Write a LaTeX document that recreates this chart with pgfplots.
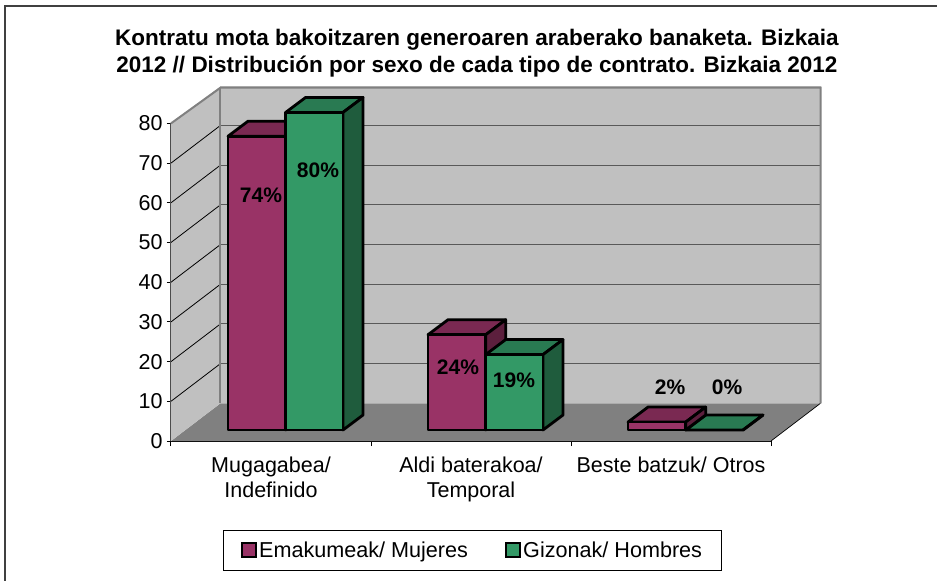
\documentclass[border=0pt]{standalone}
\usepackage{pgfplots}
\pgfplotsset{compat=1.18}
\usepackage{fontspec}
\setmainfont{Liberation Sans}
\definecolor{pfront}{HTML}{993366}
\definecolor{ptop}{HTML}{7A2952}
\definecolor{pside}{HTML}{5C1F3D}
\definecolor{gfront}{HTML}{339966}
\definecolor{gtop}{HTML}{297A52}
\definecolor{gside}{HTML}{1F5C3D}
\definecolor{wallc}{HTML}{C0C0C0}
\definecolor{floorc}{HTML}{808080}
% one 3-D bar: left x, right x, value, colour prefix
\newcommand{\threedbar}[4]{%
  \pgfmathsetmacro{\xa}{#1+0.1}\pgfmathsetmacro{\xb}{#2+0.1}%
  \pgfmathsetmacro{\yb}{2.77}\pgfmathsetmacro{\yt}{#3+2.77}%
  \pgfmathsetmacro{\ybb}{2.77+3.78}\pgfmathsetmacro{\ytt}{#3+2.77+3.78}%
  \addplot[forget plot,draw=black,line width=2.8pt,line join=round,fill=#4top] coordinates {(#1,\yt)(\xa,\ytt)(\xb,\ytt)(#2,\yt)} --cycle;
  \addplot[forget plot,draw=black,line width=2.8pt,line join=round,fill=#4side] coordinates {(#2,\yb)(\xb,\ybb)(\xb,\ytt)(#2,\yt)} --cycle;
  \addplot[forget plot,draw=black,line width=2.8pt,line join=round,fill=#4front] coordinates {(#1,\yb)(#2,\yb)(#2,\yt)(#1,\yt)} --cycle;
}
\begin{document}
\begin{tikzpicture}[x=1pt,y=1pt]
\path[use as bounding box] (-171,-140) rectangle (766,441);
\draw[color=black!75,line width=1.5pt] (766,435) -- (-166,435) -- (-166,-140);
\begin{axis}[
  anchor=south west, at={(0,0)},
  scale only axis, width=600pt, height=317.6pt,
  xmin=0, xmax=3, ymin=0, ymax=80,
  clip=false,
  axis lines*=left,
  axis line style={draw=black,line width=1pt,-},
  xtick={0.5,1.5,2.5},
  xticklabels={{Mugagabea/\\Indefinido},{Aldi baterakoa/\\Temporal},{Beste batzuk/ Otros}},
  xticklabel style={align=center,font=\fontsize{21.5}{25}\selectfont,yshift=-8pt},
  major x tick style={draw=none},
  minor xtick={0,1,2,3},
  minor tick length=5pt,
  minor x tick style={draw=black,line width=1pt},
  major tick length=4pt,
  tick align=outside,
  ytick={0,10,...,80},
  yticklabel style={font=\fontsize{21.5}{24}\selectfont,xshift=-1pt},
  ytick style={draw=black,line width=1pt},
  /pgf/number format/assume math mode=true,
  legend columns=2,
  legend cell align=left,
  legend style={at={(axis cs:1.5075,-27.5)},anchor=center,draw=black,line width=1pt,fill=white,
    font=\fontsize{21.6}{24}\selectfont,inner xsep=17pt,inner ysep=9.5pt,
    /tikz/every even column/.append style={column sep=35pt}},
  legend image code/.code={\draw[#1,line width=2.2pt] (0pt,-7pt) rectangle (14pt,7pt);},
]
\addlegendimage{draw=black,fill=pfront}
\addlegendentry{Emakumeak/ Mujeres}
\addlegendimage{draw=black,fill=gfront}
\addlegendentry{Gizonak/ Hombres}
% floor
\addplot[forget plot,fill=floorc,draw=none] coordinates {(0,0)(3,0)(3.2475,9.5)(0.2475,9.5)} --cycle;
\addplot[forget plot,draw=black,line width=0.7pt] coordinates {(3,0)(3.2475,9.5)};
% left wall
\addplot[forget plot,fill=wallc,draw=none] coordinates {(0,0)(0.2475,9.5)(0.2475,89.3)(0,80)} --cycle;
% back wall
\addplot[forget plot,fill=wallc,draw=none] coordinates {(0.2475,9.5)(3.2475,9.5)(3.2475,89.3)(0.2475,89.3)} --cycle;
% grid lines on the walls
\addplot[forget plot,draw=black,line width=0.8pt] coordinates {(0,10)(0.2475,19.5)};
\addplot[forget plot,draw=black,line width=0.8pt] coordinates {(0,20)(0.2475,29.5)};
\addplot[forget plot,draw=black,line width=0.8pt] coordinates {(0,30)(0.2475,39.5)};
\addplot[forget plot,draw=black,line width=0.8pt] coordinates {(0,40)(0.2475,49.5)};
\addplot[forget plot,draw=black,line width=0.8pt] coordinates {(0,50)(0.2475,59.5)};
\addplot[forget plot,draw=black,line width=0.8pt] coordinates {(0,60)(0.2475,69.5)};
\addplot[forget plot,draw=black,line width=0.8pt] coordinates {(0,70)(0.2475,79.5)};
\addplot[forget plot,draw=black!65,line width=0.9pt] coordinates {(0.2475,19.5)(3.2475,19.5)};
\addplot[forget plot,draw=black!65,line width=0.9pt] coordinates {(0.2475,29.5)(3.2475,29.5)};
\addplot[forget plot,draw=black!65,line width=0.9pt] coordinates {(0.2475,39.5)(3.2475,39.5)};
\addplot[forget plot,draw=black!65,line width=0.9pt] coordinates {(0.2475,49.5)(3.2475,49.5)};
\addplot[forget plot,draw=black!65,line width=0.9pt] coordinates {(0.2475,59.5)(3.2475,59.5)};
\addplot[forget plot,draw=black!65,line width=0.9pt] coordinates {(0.2475,69.5)(3.2475,69.5)};
\addplot[forget plot,draw=black!65,line width=0.9pt] coordinates {(0.2475,79.5)(3.2475,79.5)};
% wall edges
\addplot[forget plot,draw=floorc,line width=2pt] coordinates {(0,80)(0.2475,89.0)(3.2475,89.0)(3.2475,9.5)};
\addplot[forget plot,draw=floorc,line width=2pt] coordinates {(0.2475,89.0)(0.2475,9.5)};
\addplot[forget plot,draw=black!70,line width=1pt] coordinates {(0,0)(0,80)};
% bars
\threedbar{0.285}{0.5735}{74}{p}
\threedbar{0.5735}{0.86}{80}{g}
\threedbar{1.285}{1.5735}{24}{p}
\threedbar{1.5735}{1.86}{19}{g}
\threedbar{2.5735}{2.86}{0}{g}
\threedbar{2.285}{2.5735}{2}{p}
% value labels
\begin{scope}[every node/.style={font=\bfseries\fontsize{21}{24}\selectfont,inner sep=0pt}]
\node at (axis cs:0.45,61.8) {74\%};
\node at (axis cs:0.735,68.2) {80\%};
\node at (axis cs:1.435,18.5) {24\%};
\node at (axis cs:1.715,15.2) {19\%};
\node at (axis cs:2.495,13.6) {2\%};
\node at (axis cs:2.78,13.6) {0\%};
\end{scope}
\node[font=\bfseries\fontsize{22.5}{27}\selectfont,align=center,anchor=south,inner sep=0pt] at (axis cs:1.53,91.6)
 {Kontratu mota bakoitzaren generoaren araberako banaketa. Bizkaia\\2012 // Distribución por sexo de cada tipo de contrato. Bizkaia 2012};
\end{axis}
\end{tikzpicture}
\end{document}
